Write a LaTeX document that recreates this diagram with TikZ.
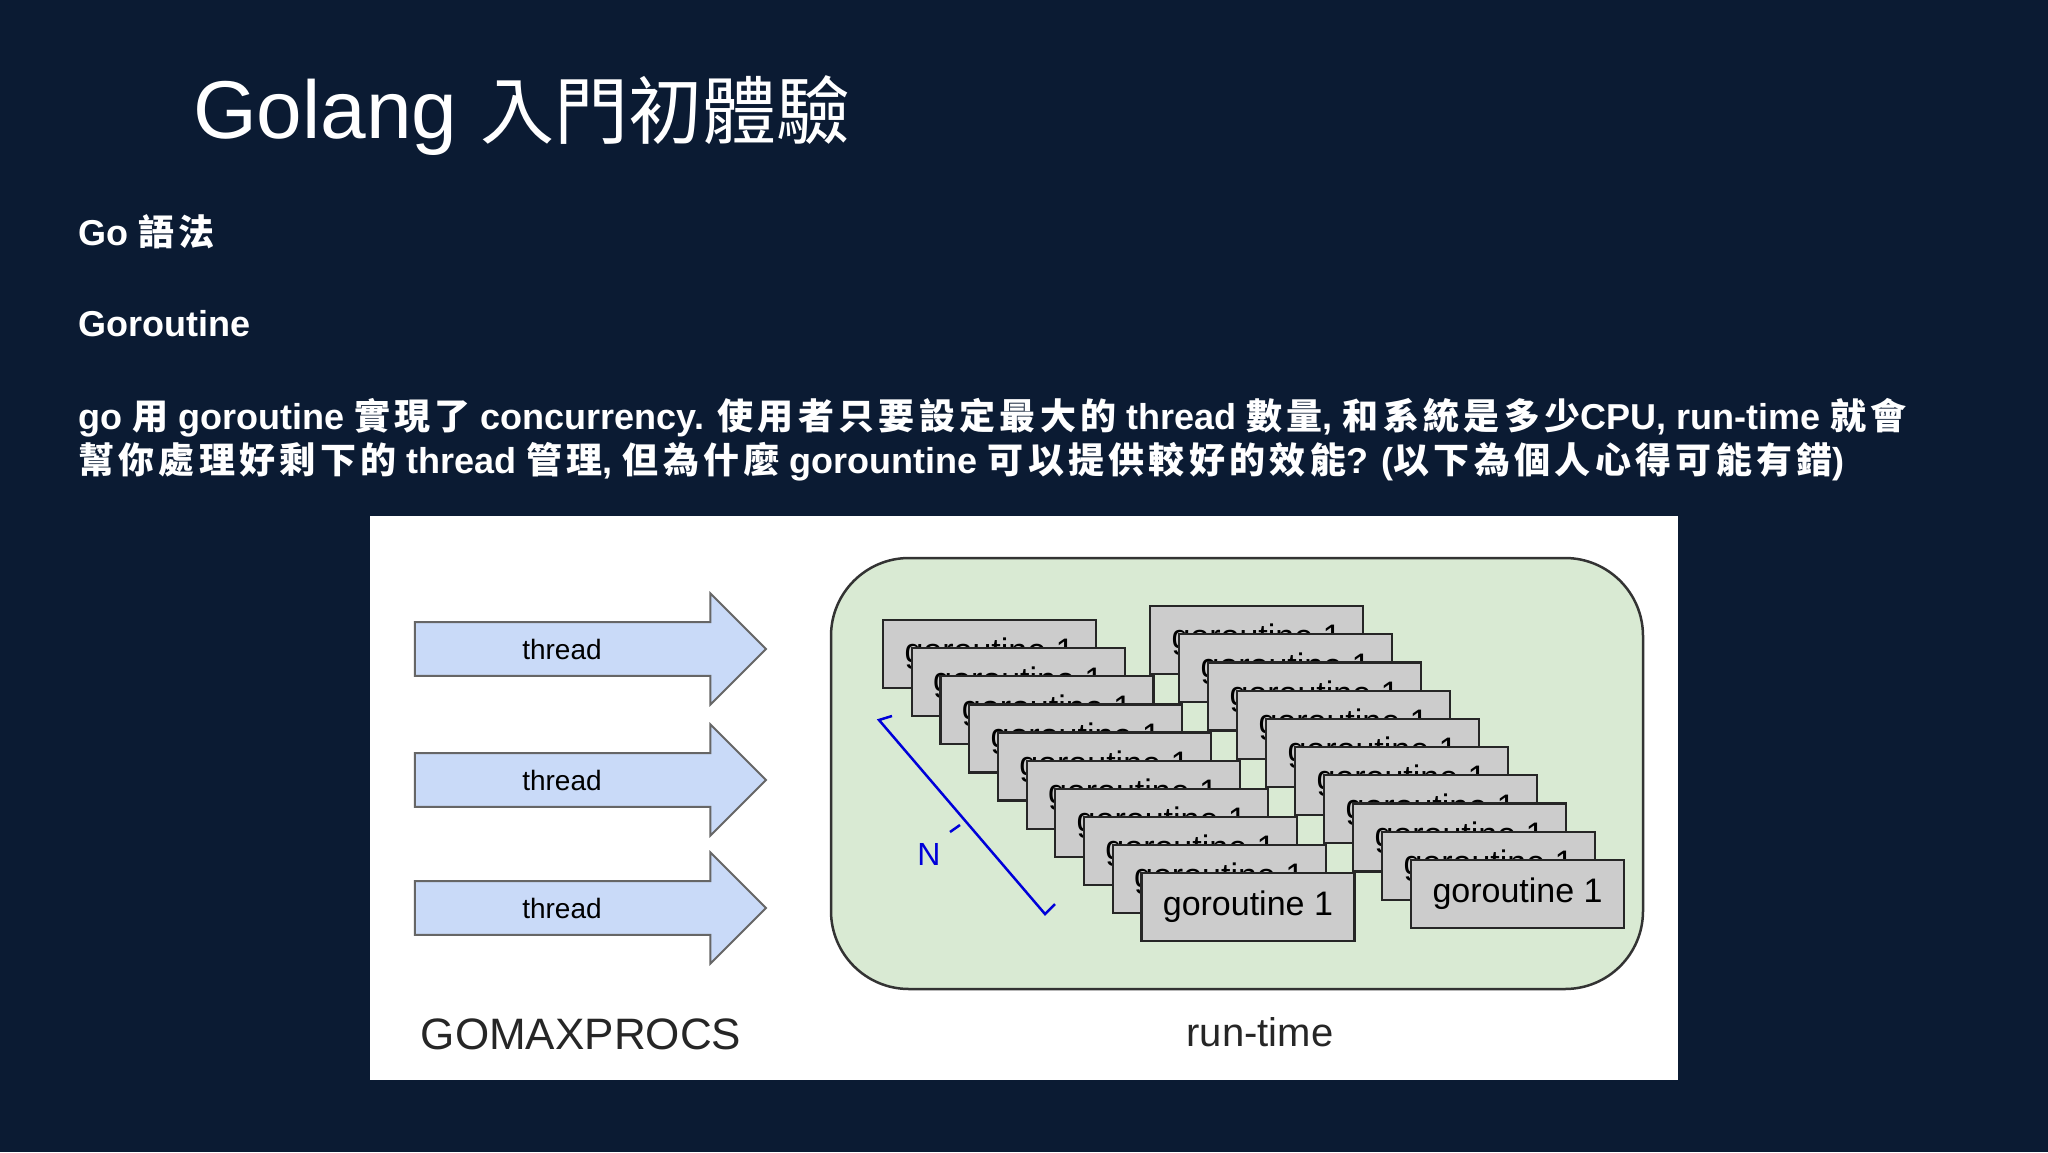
\documentclass[tikz,border=0pt]{standalone}
\usepackage{fontspec}
\setmainfont{Liberation Sans}
\newfontfamily\cjk{Noto Sans CJK TC}
\newfontfamily\cjkw[LetterSpace=12]{Noto Sans CJK TC}
\usetikzlibrary{shapes.arrows}
\definecolor{bgdark}{HTML}{0B1B33}
\definecolor{arrowblue}{HTML}{C9DAF8}
\definecolor{rtgreen}{HTML}{D9EAD3}
\definecolor{cardgray}{HTML}{CCCCCC}
\tikzset{
  txt/.style={text=white, font=\bfseries\fontsize{36}{44}\selectfont, anchor=west, inner sep=0},
  thr/.style={single arrow, draw=gray!80!black, line width=2pt, fill=arrowblue,
    minimum width=111pt, minimum height=351pt, single arrow head extend=12pt,
    single arrow head indent=0pt, font=\fontsize{28}{30}\selectfont, inner sep=0},
  card/.style={draw=black!85, line width=2.2pt, fill=cardgray, anchor=north west,
    minimum width=213pt, minimum height=68pt, inner sep=0,
    font=\fontsize{34}{36}\selectfont},
}
\begin{document}
\begin{tikzpicture}[x=1pt,y=-1pt]
\fill[bgdark] (0,0) rectangle (2048,1152);
\useasboundingbox (0,0) rectangle (2048,1152);
\node[anchor=base west, text=white, inner sep=0, font=\fontsize{82}{90}\selectfont] (title) at (193,138) {Golang {\fontsize{74}{80}\selectfont\cjk 入門初體驗}};
\node[txt] (sub1) at (78,232) {Go {\cjkw 語法}};
\node[txt] (sub2) at (78,324) {Goroutine};
\node[txt] (p1) at (78,418) {go {\cjkw 用} goroutine {\cjkw 實現了} concurrency. {\cjkw 使用者只要設定最大的} thread {\cjkw 數量}, {\cjkw 和系統是多少}CPU, run-time {\cjkw 就會}};
\node[txt] (p2) at (78,462) {{\cjkw 幫你處理好剩下的} thread {\cjkw 管理}, {\cjkw 但為什麼} gorountine {\cjkw 可以提供較好的效能}? ({\cjkw 以下為個人心得可能有錯})};
% figure panel
\fill[white] (370,516) rectangle (1678,1080);
\node[thr] (t1) at (577,649) {\hspace*{-30pt}thread};
\node[thr] (t2) at (577,780) {\hspace*{-30pt}thread};
\node[thr] (t3) at (577,908) {\hspace*{-30pt}thread};
\node[font=\fontsize{44}{48}\selectfont, text=black!85] (gmp) at (581,1034) {GOMAXPROCS};
\draw[black!80, line width=2.5pt, fill=rtgreen, rounded corners=78pt] (831,558) rectangle (1643,989);
\node[font=\fontsize{40}{44}\selectfont, text=black!85] (rt) at (1260,1032) {run-time};
% goroutine stacks
\foreach \i in {0,...,9}{
  \node[card] (l\i) at ({882+28.7*\i},{619+28.1*\i}) {\raisebox{-6pt}{goroutine 1}};
}
\foreach \i in {0,...,9}{
  \node[card] (r\i) at ({1149+29*\i},{605+28.2*\i}) {\raisebox{-6pt}{goroutine 1}};
}
% N bracket
\coordinate (bt) at (879,720);
\coordinate (bb) at (1045,914);
\coordinate (bm) at (960,825);
\draw[blue!85!black, line width=2.5pt] (892,716) -- (bt) -- (bb) -- (1055,904);
\draw[blue!85!black, line width=2.5pt] (bm) -- (950,832);
\node[text=blue!85!black, font=\fontsize{32}{34}\selectfont] (n) at (929,854) {N};
\end{tikzpicture}
\end{document}
